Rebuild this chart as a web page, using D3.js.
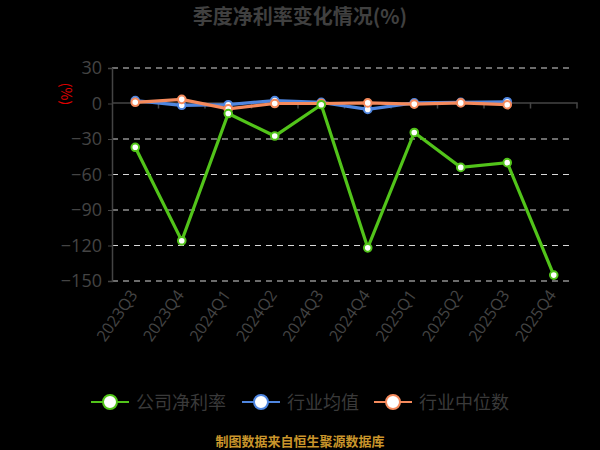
<!DOCTYPE html>
<html>
<head>
<meta charset="utf-8">
<script src="https://cdn.jsdelivr.net/npm/d3@7/dist/d3.min.js"></script>
<style>
  html, body { margin: 0; padding: 0; background: #000; }
  svg { display: block; font-family: "Noto Sans CJK SC", "Noto Sans", sans-serif; }
</style>
</head>
<body>
<div id="chart"></div>
<script>
// 季度数据
const quarters = ['2023Q3','2023Q4','2024Q1','2024Q2','2024Q3','2024Q4','2025Q1','2025Q2','2025Q3','2025Q4'];
const companyRate = [-37, -116, -8.5, -27.5, -1, -122, -24.5, -54, -50, -145];
const industryAvg = [2.5, -1.5, -1, 2.5, 1, -5, 0.5, 1, 1.5, null];
const industryMedian = [1, 3.5, -4.5, 0, 0, 0.5, -0.5, 0.5, -1, null];
const yTicks = [30, 0, -30, -60, -90, -120, -150];

const W = 600, H = 450;
const M = { left: 112, right: 577, top: 68, bottom: 281 };

const svg = d3.select('#chart').append('svg')
  .attr('width', W).attr('height', H)
  .style('background', '#000');

const x = d3.scaleBand().domain(quarters).range([M.left, M.right]);
const y = d3.scaleLinear().domain([-150, 30]).range([M.bottom, M.top]);

// title
svg.append('text')
  .attr('x', 300).attr('y', 24)
  .attr('text-anchor', 'middle')
  .attr('font-size', 20).attr('font-weight', 'bold')
  .attr('fill', '#404040')
  .text('季度净利率变化情况(%)');

// grid
svg.append('g').selectAll('line')
  .data(yTicks.filter(d => d !== 0)).enter().append('line')
  .attr('x1', M.left).attr('x2', 573)
  .attr('y1', d => y(d)).attr('y2', d => y(d))
  .attr('stroke', '#d8d8d8').attr('stroke-width', 1.2)
  .attr('stroke-dasharray', '6,5');

// y axis
const yAxis = svg.append('g')
  .attr('transform', `translate(${M.left},0)`)
  .call(d3.axisLeft(y).tickValues(yTicks).tickSize(4).tickPadding(6));
yAxis.select('.domain').attr('stroke', '#444').attr('stroke-width', 1.5);
yAxis.selectAll('.tick line').attr('stroke', '#444');
yAxis.selectAll('text').attr('fill', '#444').attr('font-size', 18)
  .attr('font-family', '"Open Sans", "Noto Sans", sans-serif');

// x axis along zero line
const xAxis = svg.append('g')
  .attr('transform', `translate(0,${y(0) - 1})`)
  .call(d3.axisBottom(x).tickSize(0).tickFormat(''));
xAxis.select('.domain').attr('stroke', '#444').attr('stroke-width', 1.5);
svg.append('g').selectAll('line')
  .data(quarters).enter().append('line')
  .attr('x1', d => x(d) + x.bandwidth()).attr('x2', d => x(d) + x.bandwidth())
  .attr('y1', y(0) - 1).attr('y2', y(0) + 5)
  .attr('stroke', '#444').attr('stroke-width', 1.5);

// x labels
svg.append('g').selectAll('text')
  .data(quarters).enter().append('text')
  .attr('transform', d => `translate(${x(d) + x.bandwidth() / 2 + 3},${M.bottom + 14}) rotate(-55)`)
  .attr('text-anchor', 'end')
  .attr('font-size', 16)
  .attr('font-family', '"Open Sans", "Noto Sans", sans-serif')
  .attr('fill', '#444')
  .text(d => d);

// y unit label
svg.append('text')
  .attr('transform', 'translate(61,94) rotate(90)')
  .attr('text-anchor', 'middle')
  .attr('font-size', 14)
  .attr('fill', '#e00000')
  .text('(%)');

const series = [
  { name: '行业均值', values: industryAvg, color: '#4f86e0' },
  { name: '行业中位数', values: industryMedian, color: '#f58a5c' },
  { name: '公司净利率', values: companyRate, color: '#52c41a' }
];

const line = d3.line()
  .defined(d => d.v !== null)
  .x(d => x(d.q) + x.bandwidth() / 2)
  .y(d => y(d.v));

series.forEach(s => {
  const pts = quarters.map((q, i) => ({ q, v: s.values[i] }));
  svg.append('path')
    .datum(pts)
    .attr('fill', 'none')
    .attr('stroke', s.color)
    .attr('stroke-width', 3.2)
    .attr('d', line);
  svg.append('g').selectAll('circle')
    .data(pts.filter(d => d.v !== null)).enter().append('circle')
    .attr('cx', d => x(d.q) + x.bandwidth() / 2)
    .attr('cy', d => y(d.v))
    .attr('r', 3.8)
    .attr('fill', '#fff')
    .attr('stroke', s.color)
    .attr('stroke-width', 2);
});

// legend
const legend = [
  { name: '公司净利率', color: '#52c41a', x: 91 },
  { name: '行业均值', color: '#4f86e0', x: 242 },
  { name: '行业中位数', color: '#f58a5c', x: 374 }
];
const lg = svg.append('g').selectAll('g')
  .data(legend).enter().append('g')
  .attr('transform', d => `translate(${d.x},402)`);
lg.append('line')
  .attr('x1', 0).attr('x2', 38).attr('y1', 0).attr('y2', 0)
  .attr('stroke', d => d.color).attr('stroke-width', 2);
lg.append('circle')
  .attr('cx', 19).attr('cy', 0).attr('r', 7)
  .attr('fill', '#fff').attr('stroke', d => d.color).attr('stroke-width', 2);
lg.append('text')
  .attr('x', 45).attr('y', 6.5)
  .attr('font-size', 18)
  .attr('fill', '#3a3a3a')
  .text(d => d.name);

// source
svg.append('text')
  .attr('x', 300).attr('y', 446)
  .attr('text-anchor', 'middle')
  .attr('font-size', 13).attr('font-weight', 'bold')
  .attr('fill', '#c9952b')
  .text('制图数据来自恒生聚源数据库');
</script>
</body>
</html>
